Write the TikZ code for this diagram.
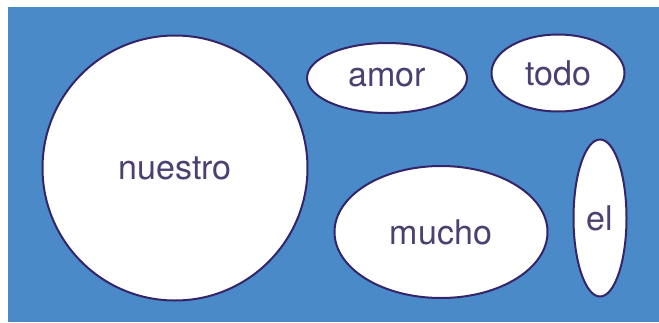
\documentclass[tikz,border=0pt]{standalone}
\usepackage{fontspec}
\setmainfont{TeX Gyre Heros}
\usepackage{tikz}
\usetikzlibrary{positioning}
\usetikzlibrary{shapes}
\definecolor{bgblue}{RGB}{74,138,201}
\definecolor{rim}{RGB}{52,36,104}
\definecolor{word}{RGB}{76,64,112}
\tikzstyle{bubble} = [ellipse, draw=rim, fill=white, line width=1pt,
                text=word, inner sep=0pt, font=\fontsize{17}{20}\selectfont]
\tikzstyle{roundbubble} = [bubble, circle]

\begin{document}
\begin{tikzpicture}[x=0.5pt, y=-0.5pt]
                \useasboundingbox (0,0) rectangle (659,322);
                \fill[bgblue] (8,7) rectangle (659,322);
                \node[roundbubble, minimum size=132.5pt] (nuestro) at (175,168) {nuestro};
                \node[bubble, minimum width=80pt, minimum height=35pt] (amor) at (387,78) {amor};
                \node[bubble, minimum width=66.5pt, minimum height=38.5pt] (todo) at (558,73) {todo};
                \node[bubble, minimum width=106.5pt, minimum height=66pt] (mucho) at (441,232) {mucho};
                \node[bubble, minimum width=26.5pt, minimum height=78.5pt] (el) at (600,218) {el};
            \end{tikzpicture}
\end{document}
